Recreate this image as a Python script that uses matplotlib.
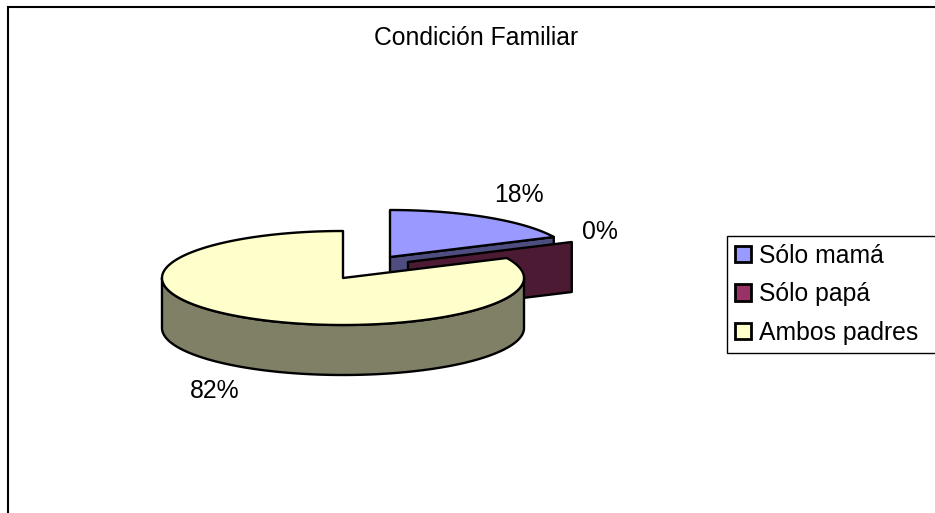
import numpy as np
import matplotlib
matplotlib.use("Agg")
import matplotlib.pyplot as plt
from matplotlib.patches import Polygon, Patch

plt.rcParams['font.family'] = ['Liberation Sans', 'DejaVu Sans']

categories = ['Sólo mamá', 'Sólo papá', 'Ambos padres']
shares = [18, 0, 82]
pct_labels = ['18%', '0%', '82%']
title = 'Condición Familiar'

top_colors = ['#9999FF', '#993366', '#FFFFCC']
side_colors = ['#4D4D80', '#4D1A33', '#808066']

# pie geometry in pixels
rx, ry, depth = 181, 47, 50
centers = [(390, 257), (408, 262), (343, 278)]
label_pos = [(519, 195), (600, 232), (215, 391)]
fs = 17.8
lw = 1.7


def rim(cx, cy, a0, a1, dy=0):
    # angles clockwise from 12 o'clock, in degrees
    t = np.radians(np.linspace(a0, a1, max(2, int(abs(a1 - a0) * 2))))
    return np.column_stack([cx + rx * np.sin(t), cy - ry * np.cos(t) + dy])


fig = plt.figure(figsize=(9.35, 5.13), dpi=100)
ax = fig.add_axes([0, 0, 1, 1])
ax.set_xlim(0, 935)
ax.set_ylim(513, 0)
ax.axis('off')

# chart border, only top and left are inside the picture
ax.plot([8, 8, 935], [513, 7, 7], color='black', lw=1.5, solid_joinstyle='miter')

edges = np.cumsum([0] + shares) * 3.6

for i, (cx, cy) in enumerate(centers):
    a0, a1 = edges[i], edges[i + 1]
    if a1 < 360:
        # cut wall at the end of the slice
        end = rim(cx, cy, a1, a1)[0]
        wall = [(cx, cy), end, (end[0], end[1] + depth), (cx, cy + depth)]
        ax.add_patch(Polygon(wall, fc=side_colors[i], ec='black', lw=lw, joinstyle='round'))
    lo, hi = max(a0, 90), min(a1, 270)
    if hi > lo:
        # outer side facing the viewer
        side = np.vstack([rim(cx, cy, lo, hi), rim(cx, cy, hi, lo, depth)])
        ax.add_patch(Polygon(side, fc=side_colors[i], ec='black', lw=lw, joinstyle='round'))
    if a1 > a0:
        top = np.vstack([[(cx, cy)], rim(cx, cy, a0, a1)])
        ax.add_patch(Polygon(top, fc=top_colors[i], ec='black', lw=lw, joinstyle='round'))

ax.text(476, 38, title, fontsize=fs, ha='center', va='center', color='black')
for (x, y), s in zip(label_pos, pct_labels):
    ax.text(x, y, s, fontsize=fs, ha='center', va='center', color='black')

handles = [Patch(fc=c, ec='black', lw=2.0) for c in top_colors]
leg = ax.legend(handles, categories, loc='upper left', bbox_to_anchor=(727, 236, 209, 113),
                bbox_transform=ax.transData, mode='expand', fontsize=fs, frameon=True,
                fancybox=False, framealpha=1, edgecolor='black', handlelength=0.64,
                handleheight=0.64, handletextpad=0.34, labelspacing=0.58, borderpad=0.32,
                borderaxespad=0)
leg.get_frame().set_linewidth(1.0)

fig.savefig('out.png', dpi=100)
